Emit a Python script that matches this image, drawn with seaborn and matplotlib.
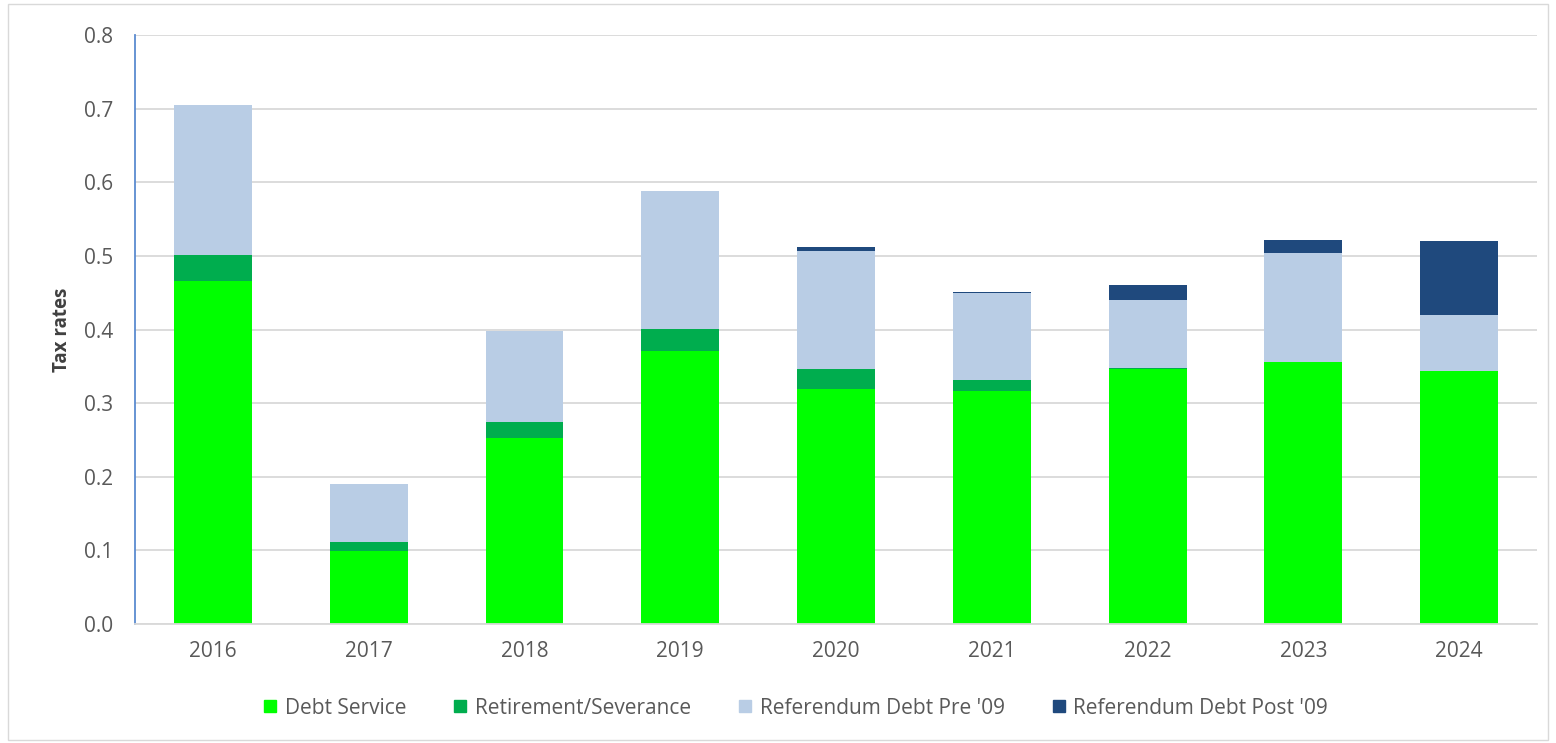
import matplotlib
matplotlib.use("Agg")
import matplotlib.pyplot as plt
import seaborn as sns
import numpy as np
import pandas as pd
from matplotlib.patches import Rectangle
from matplotlib.lines import Line2D

years = ["2016", "2017", "2018", "2019", "2020", "2021", "2022", "2023", "2024"]
debt_service = [0.466, 0.099, 0.252, 0.371, 0.319, 0.317, 0.347, 0.356, 0.343]
retirement = [0.035, 0.013, 0.022, 0.030, 0.027, 0.014, 0.001, 0.000, 0.000]
ref_pre09 = [0.204, 0.078, 0.124, 0.187, 0.161, 0.118, 0.092, 0.148, 0.077]
ref_post09 = [0.000, 0.000, 0.000, 0.000, 0.005, 0.002, 0.020, 0.017, 0.100]

series_names = ["Debt Service", "Retirement/Severance", "Referendum Debt Pre '09", "Referendum Debt Post '09"]
series_colors = ["#00FF00", "#00AD4E", "#B9CDE5", "#1F497D"]

sns.set_theme(style="white")
plt.rcParams['font.family'] = ['Open Sans', 'DejaVu Sans']

fig = plt.figure(figsize=(15.56, 7.43), dpi=100)
ax = fig.add_axes([135/1556, 1-624/743, (1537-135)/1556, (624-35)/743])

layers = [debt_service, retirement, ref_pre09, ref_post09]
cum = np.cumsum(np.array(layers), axis=0)
df = pd.DataFrame({"year": years})
# draw from top layer down so lower layers overlay
for i in range(len(layers) - 1, -1, -1):
    df["val"] = cum[i]
    sns.barplot(data=df, x="year", y="val", color=series_colors[i], width=0.5,
                saturation=1, linewidth=0, ax=ax, zorder=2)

ax.set_xlim(-0.5, len(years) - 0.5)
ax.set_ylim(0, 0.8)
ax.set_yticks(np.arange(0, 0.81, 0.1))
ax.set_yticklabels([f"{v:.1f}" for v in np.arange(0, 0.81, 0.1)])
ax.yaxis.grid(True, color="#D9D9D9", linewidth=1.3, zorder=0)
ax.set_axisbelow(True)
for s in ["top", "right"]:
    ax.spines[s].set_visible(False)
ax.spines["left"].set_color("#5B8BD0")
ax.spines["left"].set_linewidth(1.3)
ax.spines["bottom"].set_color("#D9D9D9")
ax.spines["bottom"].set_linewidth(1.3)
ax.tick_params(axis="both", length=0, labelsize=15, colors="#595959")
ax.tick_params(axis="x", pad=12)
ax.tick_params(axis="y", pad=16)
ax.set_xlabel("")
ax.set_ylabel("Tax rates", fontsize=13.5, fontweight="bold", color="#404040", labelpad=8)

handles = [Line2D([0], [0], marker="s", linestyle="none", markersize=9,
                  markerfacecolor=c, markeredgecolor=c) for c in series_colors]
fig.legend(handles, series_names, loc="center", bbox_to_anchor=(796/1556, 1-708/743),
           ncol=4, frameon=False, fontsize=15, labelcolor="#595959",
           handlelength=0.6, handletextpad=0.4, columnspacing=2.3)

fig.patches.append(Rectangle((8/1556, 1-740/743), 1540/1556, 736/743, transform=fig.transFigure,
                             fill=False, edgecolor="#D9D9D9", linewidth=1))

fig.savefig("out.png", dpi=100)
